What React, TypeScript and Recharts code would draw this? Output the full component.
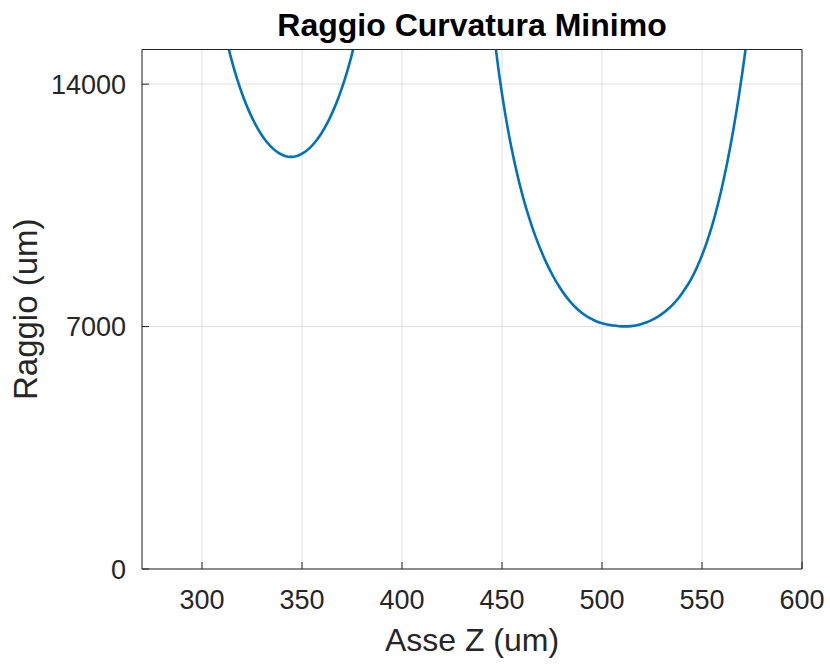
import { LineChart, Line, XAxis, YAxis, CartesianGrid } from 'recharts'

// primo tratto (minimo vicino a z=345)
const zTratto1 = [311.5, 314.5, 317.5, 320.5, 323.5, 326.5, 329.5, 332.5, 335.5, 338.5, 341.5, 344.5, 347.5, 350.5, 353.5, 356.5, 359.5, 362.5, 365.5, 368.5, 371.5, 374.5, 377.5]
const rTratto1 = [15460, 14760, 14160, 13650, 13220, 12860, 12562, 12322, 12137, 12005, 11926, 11900, 11926, 12005, 12137, 12322, 12562, 12860, 13220, 13650, 14160, 14760, 15460]

// secondo tratto (minimo vicino a z=512)
const zTratto2 = [
  445.5, 448.5, 451.5, 454.5, 457.5, 460.5, 463.5, 466.5, 469.5, 472.5, 475.5, 478.5, 481.5, 484.5, 487.5, 490.5,
  493.5, 496.5, 499.5, 502.5, 505.5, 508.5, 511.5, 514.5, 517.5, 520.5, 523.5, 526.5, 529.5, 532.5, 535.5, 538.5,
  541.5, 544.5, 547.5, 550.5, 553.5, 556.5, 559.5, 562.5, 565.5, 568.5, 571.5, 574.5
]
const rTratto2 = [
  15645, 14310, 13178, 12225, 11423, 10740, 10152, 9641, 9194, 8802, 8460, 8163, 7908, 7694, 7515, 7370,
  7256, 7169, 7104, 7059, 7029, 7011, 7005, 7014, 7041, 7088, 7151, 7235, 7343, 7478, 7642, 7839,
  8084, 8366, 8715, 9130, 9626, 10213, 10902, 11702, 12625, 13683, 14884, 16234
]

const xTicks = [300, 350, 400, 450, 500, 550, 600]
const yTicks = [0, 7000, 14000]

const tratto1 = zTratto1.map((z, i) => ({ z, r: rTratto1[i] }))
const tratto2 = zTratto2.map((z, i) => ({ z, r: rTratto2[i] }))

const FONT = '"Liberation Sans", Arial, Helvetica, sans-serif'
const AXIS_COLOR = '#262626'

const App = () => {
  return (
    <div style={{ position: 'absolute', left: 0, top: 0, width: 830, height: 664, background: '#fff', fontFamily: FONT }}>
      <div
        style={{
          position: 'absolute', left: 142, width: 660, top: 6, textAlign: 'center',
          fontSize: 32, fontWeight: 'bold', color: '#000', lineHeight: '38px'
        }}
      >
        Raggio Curvatura Minimo
      </div>
      <LineChart width={830} height={664} margin={{ top: 48.5, right: 27, bottom: 0, left: 0 }}>
        <CartesianGrid xAxisId="bottom" yAxisId="left" stroke="#dfdfdf" strokeWidth={1} />
        <XAxis
          xAxisId="bottom"
          dataKey="z"
          type="number"
          domain={[270, 600]}
          ticks={xTicks}
          allowDataOverflow
          height={95}
          stroke={AXIS_COLOR}
          tickSize={-7}
          tickMargin={28}
          tick={{ fill: AXIS_COLOR, fontSize: 27, fontFamily: FONT }}
          label={{ value: 'Asse Z (um)', position: 'insideBottom', offset: 13, fill: AXIS_COLOR, fontSize: 32, fontFamily: FONT }}
        />
        <XAxis
          xAxisId="top"
          orientation="top"
          dataKey="z"
          type="number"
          domain={[270, 600]}
          ticks={xTicks}
          allowDataOverflow
          height={1}
          stroke={AXIS_COLOR}
          tickSize={-7}
          tick={false}
        />
        <YAxis
          yAxisId="left"
          type="number"
          domain={[0, 15000]}
          ticks={yTicks}
          allowDataOverflow
          width={142}
          stroke={AXIS_COLOR}
          tickSize={-7}
          tickMargin={23}
          tick={{ fill: AXIS_COLOR, fontSize: 27, fontFamily: FONT }}
          label={{ value: 'Raggio (um)', angle: -90, position: 'insideLeft', offset: 25, fill: AXIS_COLOR, fontSize: 33, fontFamily: FONT, style: { textAnchor: 'middle' } }}
        />
        <YAxis
          yAxisId="right"
          orientation="right"
          type="number"
          domain={[0, 15000]}
          ticks={yTicks}
          allowDataOverflow
          width={1}
          stroke={AXIS_COLOR}
          tickSize={-7}
          tick={false}
        />
        <Line
          xAxisId="bottom"
          yAxisId="left"
          data={tratto1}
          dataKey="r"
          type="natural"
          stroke="#0072BD"
          strokeWidth={2.6}
          dot={false}
          isAnimationActive={false}
        />
        <Line
          xAxisId="bottom"
          yAxisId="left"
          data={tratto2}
          dataKey="r"
          type="natural"
          stroke="#0072BD"
          strokeWidth={2.6}
          dot={false}
          isAnimationActive={false}
        />
        {/* serie invisibile: serve solo a far disegnare i bordi superiore e destro */}
        <Line
          xAxisId="top"
          yAxisId="right"
          data={tratto2}
          dataKey="r"
          stroke="none"
          dot={false}
          activeDot={false}
          legendType="none"
          isAnimationActive={false}
        />
      </LineChart>
    </div>
  )
}

export default App
